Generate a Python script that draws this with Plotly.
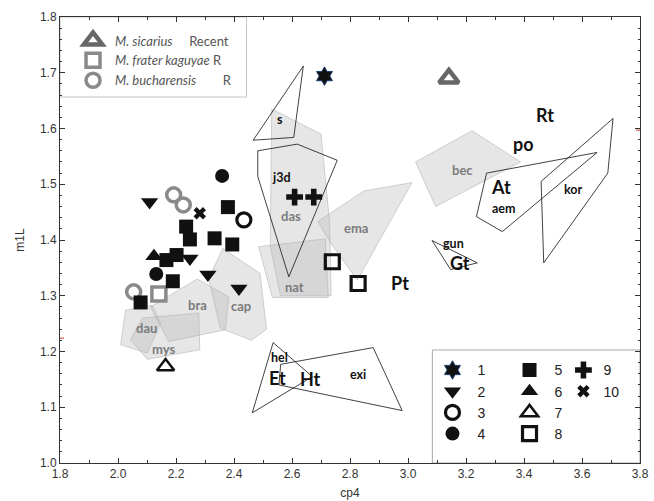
import plotly.graph_objects as go

# ---- measured specimens (cp4, m1L) by group ----
g1_x = [2.712]; g1_y = [1.694]                                   # 1
g2_x = [2.109, 2.248, 2.310, 2.417]; g2_y = [1.468, 1.367, 1.338, 1.313]   # 2
g3_x = [2.434]; g3_y = [1.436]                                   # 3
g4_x = [2.359, 2.132]; g4_y = [1.515, 1.339]                     # 4
g5_x = [2.379, 2.235, 2.248, 2.333, 2.394, 2.167, 2.202, 2.189, 2.078]
g5_y = [1.459, 1.424, 1.401, 1.403, 1.392, 1.364, 1.373, 1.326, 1.288]    # 5
g6_x = [2.124]; g6_y = [1.371]                                   # 6
g7_x = [2.164]; g7_y = [1.173]                                   # 7
g8_x = [2.739, 2.828]; g8_y = [1.361, 1.322]                     # 8
g9_x = [2.609, 2.675]; g9_y = [1.477, 1.477]                     # 9
g10_x = [2.282]; g10_y = [1.448]                                 # 10

# ---- recent reference species ----
sicarius_x = [3.141]; sicarius_y = [1.690]
frater_x = [2.141]; frater_y = [1.303]
buchar_x = [2.192, 2.225, 2.054]; buchar_y = [1.481, 1.463, 1.307]

# ---- shaded ranges (polygon vertices, cp4 / m1L) ----
grey_polys = {
    "das": ([2.530, 2.700, 2.730, 2.735, 2.560, 2.525], [1.635, 1.590, 1.430, 1.300, 1.300, 1.390]),
    "nat": ([2.485, 2.715, 2.725, 2.532], [1.388, 1.402, 1.297, 1.297]),
    "ema": ([2.689, 2.848, 3.014, 2.825, 2.733], [1.433, 1.488, 1.503, 1.328, 1.395]),
    "bec": ([3.026, 3.221, 3.388, 3.095], [1.540, 1.596, 1.540, 1.460]),
    "dau": ([2.026, 2.118, 2.147, 2.101, 2.009], [1.274, 1.283, 1.251, 1.197, 1.212]),
    "mys": ([2.083, 2.279, 2.282, 2.101, 2.043], [1.260, 1.269, 1.203, 1.186, 1.221]),
    "bra": ([2.112, 2.273, 2.382, 2.371, 2.175], [1.280, 1.330, 1.298, 1.239, 1.218]),
    "cap": ([2.361, 2.490, 2.512, 2.460, 2.353, 2.313], [1.385, 1.340, 1.240, 1.220, 1.242, 1.330]),
}

# ---- outlined ranges ----
line_polys = {
    "s":   ([2.639, 2.606, 2.466], [1.712, 1.584, 1.579]),
    "j3d": ([2.482, 2.618, 2.756, 2.589, 2.482], [1.560, 1.572, 1.543, 1.334, 1.514]),
    "aem": ([3.271, 3.652, 3.325, 3.236], [1.520, 1.557, 1.415, 1.442]),
    "kor": ([3.707, 3.689, 3.468, 3.459], [1.618, 1.520, 1.359, 1.505]),
    "gun": ([3.083, 3.239, 3.147], [1.399, 1.359, 1.347]),
    "hel": ([2.535, 2.670, 2.463], [1.216, 1.155, 1.090]),
    "exi": ([2.561, 2.880, 2.980, 2.555], [1.177, 1.207, 1.094, 1.140]),
}

# ---- range labels ----
grey_labels = [("das", 2.595, 1.443), ("ema", 2.819, 1.422), ("nat", 2.609, 1.316),
               ("bec", 3.189, 1.526), ("bra", 2.273, 1.283), ("cap", 2.425, 1.282),
               ("dau", 2.098, 1.242), ("mys", 2.158, 1.204)]
small_labels = [("s", 2.560, 1.617), ("j3d", 2.563, 1.512), ("aem", 3.330, 1.457),
                ("kor", 3.572, 1.490), ("gun", 3.158, 1.393), ("hel", 2.558, 1.189),
                ("exi", 2.828, 1.158)]
big_labels = [("Rt", 3.471, 1.624), ("po", 3.399, 1.572), ("At", 3.319, 1.495),
              ("Pt", 2.974, 1.322), ("Gt", 3.181, 1.359), ("Et", 2.549, 1.153),
              ("Ht", 2.664, 1.151)]

x_ticks = [1.8, 2.0, 2.2, 2.4, 2.6, 2.8, 3.0, 3.2, 3.4, 3.6, 3.8]
y_ticks = [1.0, 1.1, 1.2, 1.3, 1.4, 1.5, 1.6, 1.7, 1.8]

fig = go.Figure()

for name, (px, py) in grey_polys.items():
    fig.add_trace(go.Scatter(x=px + [px[0]], y=py + [py[0]], mode="lines", fill="toself",
                             fillcolor="rgba(185,185,185,0.36)",
                             line=dict(color="rgba(175,175,175,0.55)", width=1),
                             hoverinfo="skip", showlegend=False))

for name, (px, py) in line_polys.items():
    fig.add_trace(go.Scatter(x=px + [px[0]], y=py + [py[0]], mode="lines",
                             line=dict(color="#111", width=0.8),
                             hoverinfo="skip", showlegend=False))

BLACK = "#111111"


def pts(x, y, name, symbol, size, legend, color=BLACK, lw=0, lc=None):
    fig.add_trace(go.Scatter(
        x=x, y=y, mode="markers", name=name, legend=legend,
        marker=dict(symbol=symbol, size=size, color=color,
                    line=dict(width=lw, color=lc if lc else color))))


pts(sicarius_x, sicarius_y, "<i>M. sicarius</i>     Recent", "triangle-up-open", 17, "legend",
    color="#676767", lw=4.5)
pts(frater_x, frater_y, "<i>M. frater kaguyae</i> R", "square-open", 14, "legend",
    color="#8a8a8a", lw=3.5)
pts(buchar_x, buchar_y, "<i>M. bucharensis</i>        R", "circle-open", 14, "legend",
    color="#8a8a8a", lw=3.5)

pts(g1_x, g1_y, "1", "hexagram", 14, "legend2", lw=1, lc="#1c3d6e")
pts(g2_x, g2_y, "2", "triangle-down", 15, "legend2")
pts(g3_x, g3_y, "3", "circle-open", 14, "legend2", lw=3.2)
pts(g4_x, g4_y, "4", "circle", 14, "legend2")
pts(g5_x, g5_y, "5", "square", 14, "legend3")
pts(g6_x, g6_y, "6", "triangle-up", 15, "legend3")
pts(g7_x, g7_y, "7", "triangle-up-open", 15, "legend3", lw=2.5)
pts(g8_x, g8_y, "8", "square-open", 14, "legend3", lw=3.2)
pts(g9_x, g9_y, "9", "cross", 14, "legend4")
pts(g10_x, g10_y, "10", "x", 11, "legend4")

ann = []
for t, x, y in grey_labels:
    ann.append(dict(x=x, y=y, text=t, showarrow=False,
                    font=dict(family="Lato", size=13, color="#7b7b7b", weight="bold")))
for t, x, y in small_labels:
    ann.append(dict(x=x, y=y, text=t, showarrow=False,
                    font=dict(family="Lato", size=12.5, color="#111", weight="bold")))
for t, x, y in big_labels:
    ann.append(dict(x=x, y=y, text=t, showarrow=False,
                    font=dict(family="Lato", size=18, color="#111", weight="bold")))

shapes = [
    # legend frames
    dict(type="rect", xref="paper", yref="paper", x0=0, x1=0.3216, y0=0.8206, y1=1,
         line=dict(color="#c4c4c4", width=1), layer="below"),
    dict(type="rect", xref="paper", yref="paper", x0=0.642, x1=1, y0=0, y1=0.2534,
         line=dict(color="#a8a8a8", width=1), layer="below"),
    # small red axis marks
    dict(type="line", xref="paper", yref="y", x0=0, x1=0.007, y0=1.224, y1=1.224,
         line=dict(color="#c0392b", width=1)),
    dict(type="line", xref="paper", yref="y", x0=0.993, x1=1, y0=1.597, y1=1.597,
         line=dict(color="#c0392b", width=1)),
]

axis_common = dict(showline=True, mirror="allticks", linecolor="#333", linewidth=1,
                   ticks="inside", tickcolor="#333", showgrid=False, zeroline=False,
                   automargin=False,
                   tickfont=dict(family="Liberation Sans", size=12, color="#333"),
                   tickformat=".1f")

leg_common = dict(bgcolor="rgba(0,0,0,0)", borderwidth=0, xanchor="left", yanchor="top",
                  itemclick=False, itemdoubleclick=False)

fig.update_layout(
    width=654, height=501,
    margin=dict(l=60, r=14, t=17, b=38, autoexpand=False),
    plot_bgcolor="white", paper_bgcolor="white",
    xaxis=dict(range=[1.8, 3.8], tickvals=x_ticks, ticklen=5,
               minor=dict(ticks="inside", dtick=0.1, tick0=1.8, ticklen=3, tickcolor="#333"),
               title=dict(text="cp4", font=dict(family="Liberation Sans", size=12, color="#333"),
                          standoff=8),
               **axis_common),
    yaxis=dict(range=[1.0, 1.8], tickvals=y_ticks, ticklen=5,
               minor=dict(ticks="inside", dtick=0.02, tick0=1.0, ticklen=2, tickcolor="#333"),
               title=dict(text="m1L", font=dict(family="Liberation Sans", size=12, color="#333"),
                          standoff=12),
               **axis_common),
    legend=dict(x=0.019, y=0.981, itemwidth=34,
                font=dict(family="Lato", size=13, color="#555"), **leg_common),
    legend2=dict(x=0.6336, y=0.2435, itemwidth=40,
                 font=dict(family="Liberation Sans", size=14, color="#222"), **leg_common),
    legend3=dict(x=0.7664, y=0.2435, itemwidth=40,
                 font=dict(family="Liberation Sans", size=14, color="#222"), **leg_common),
    legend4=dict(x=0.868, y=0.2435, itemwidth=30,
                 font=dict(family="Liberation Sans", size=14, color="#222"), **leg_common),
    annotations=ann,
    shapes=shapes,
)

fig.write_html("out.html")
